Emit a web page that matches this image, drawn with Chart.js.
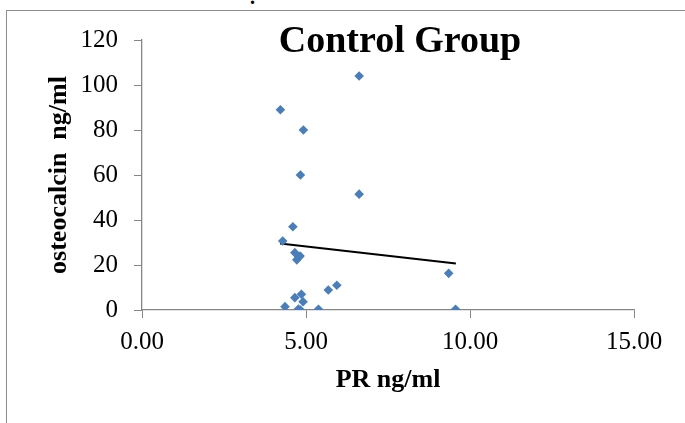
<!DOCTYPE html>
<html>
<head>
<meta charset="utf-8">
<script src="https://cdn.jsdelivr.net/npm/chart.js@4/dist/chart.umd.min.js"></script>
<style>
  html, body { margin: 0; padding: 0; background: #fff; }
  #wrap { position: relative; width: 685px; height: 423px; overflow: hidden; }
  #frame { position: absolute; left: 6px; top: 10px; width: 800px; height: 500px;
           border-left: 1px solid #8c8c8c; border-top: 1px solid #8c8c8c; }
  #dot { position: absolute; left: 250px; top: -14px; font: bold 20px "Liberation Serif", serif; color: #000; }
  canvas { position: absolute; left: 0; top: 0; }
</style>
</head>
<body>
<div id="wrap">
  <div id="frame"></div>
  <span id="dot">.</span>
  <canvas id="chart" width="685" height="423"></canvas>
</div>
<script>
// DATA
const chartTitle = 'Control Group';
const xTitle = 'PR ng/ml';
const yTitle = 'osteocalcin  ng/ml';

const prValues = [6.62, 4.22, 4.92, 4.83, 6.62, 4.60, 4.29, 4.66, 4.82, 4.72, 4.78,
                  5.68, 5.94, 4.86, 4.66, 4.91, 4.36, 4.77, 4.83, 5.38, 9.35, 9.56];
const osteoValues = [104, 89, 80, 60, 51.5, 37, 30.7, 25.5, 24, 22.3, 23.5,
                     8.9, 11, 7, 5.5, 3.7, 1.5, 0.4, 0, 0.3, 16.3, 0.3];

// linear trend line end points
const trendX = [4.21, 9.57];
const trendY = [29.6, 20.7];

const xMin = 0, xMax = 15, xStep = 5;
const yMin = 0, yMax = 120, yStep = 20;

const serif = '"Liberation Serif", "Times New Roman", serif';
const axisGray = '#868686';

const scatterPoints = prValues.map((x, i) => ({ x: x, y: osteoValues[i] }));
const trendPoints = trendX.map((x, i) => ({ x: x, y: trendY[i] }));

// title drawn inside the plot, like the original
const titlePlugin = {
    id: 'insideTitle',
    afterDraw(chart) {
        const ctx = chart.ctx;
        ctx.save();
        ctx.font = 'bold 38px ' + serif;
        ctx.fillStyle = '#000';
        ctx.textAlign = 'center';
        ctx.textBaseline = 'alphabetic';
        ctx.fillText(chartTitle, 400, 52);
        ctx.restore();
    }
};

new Chart(document.getElementById('chart').getContext('2d'), {
    type: 'scatter',
    data: {
        datasets: [
            {
                label: 'osteocalcin',
                data: scatterPoints,
                pointStyle: 'rectRot',
                pointRadius: 4.8,
                pointHoverRadius: 4.8,
                backgroundColor: '#4a7ebb',
                borderColor: '#4a7ebb',
                borderWidth: 0
            },
            {
                type: 'line',
                label: 'Linear',
                data: trendPoints,
                borderColor: '#000',
                borderWidth: 2,
                pointRadius: 0,
                fill: false
            }
        ]
    },
    options: {
        responsive: false,
        animation: false,
        layout: { padding: { left: 0, right: 51, top: 40, bottom: 0 } },
        plugins: {
            legend: { display: false },
            tooltip: { enabled: false }
        },
        scales: {
            x: {
                type: 'linear',
                min: xMin, max: xMax,
                afterFit: (s) => { s.height = 113; },
                ticks: {
                    stepSize: xStep,
                    padding: 9,
                    color: '#000',
                    font: { family: serif, size: 25 },
                    callback: (v) => v.toFixed(2)
                },
                grid: { display: true, drawOnChartArea: false, drawTicks: true, tickLength: 8, color: axisGray },
                border: { display: true, color: axisGray, width: 1.3 },
                title: {
                    display: true, text: xTitle, color: '#000',
                    font: { family: serif, size: 26, weight: 'bold' },
                    padding: { top: 0, bottom: 27 }
                }
            },
            y: {
                min: yMin, max: yMax,
                afterFit: (s) => { s.width = 142; },
                ticks: {
                    stepSize: yStep,
                    padding: 16,
                    color: '#000',
                    font: { family: serif, size: 25 }
                },
                grid: { display: true, drawOnChartArea: false, drawTicks: true, tickLength: 8, color: axisGray },
                border: { display: true, color: axisGray, width: 1.3 },
                title: {
                    display: true, text: yTitle, color: '#000',
                    font: { family: serif, size: 26, weight: 'bold' },
                    padding: { top: 44, bottom: 0 }
                }
            }
        }
    },
    plugins: [titlePlugin]
});
</script>
</body>
</html>
